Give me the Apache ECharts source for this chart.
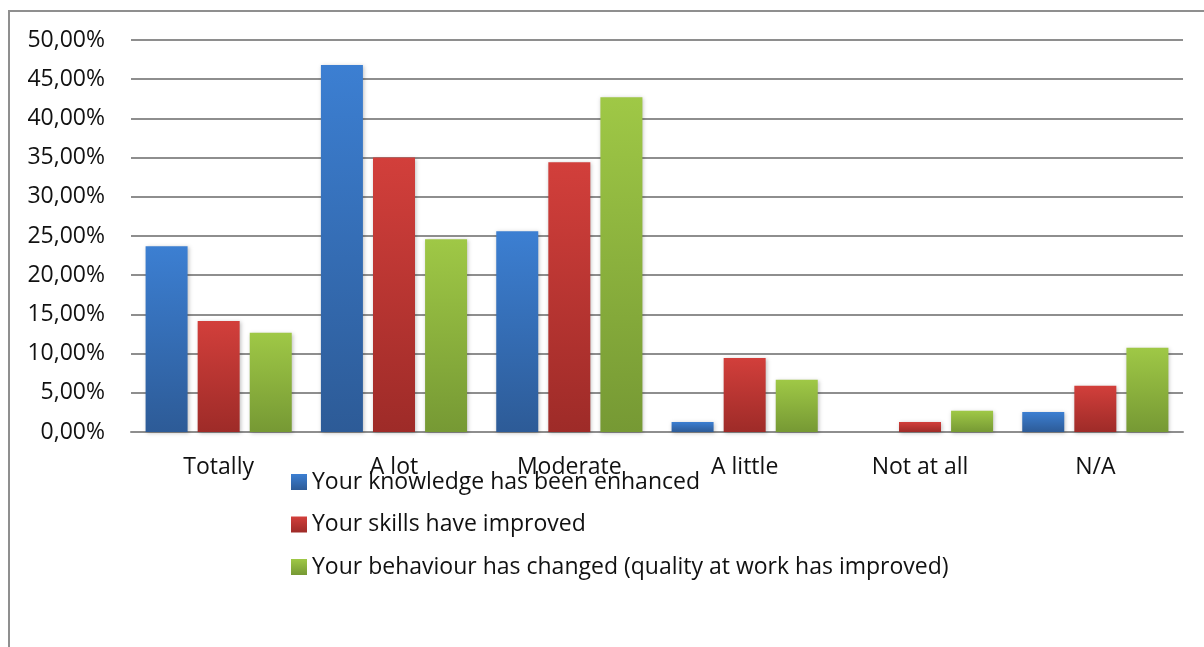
<!DOCTYPE html>
<html>
<head>
<meta charset="utf-8">
<script src="https://cdn.jsdelivr.net/npm/echarts@6/dist/echarts.min.js"></script>
<style>
  html, body { margin: 0; padding: 0; background: #fff; }
  #chart { width: 1204px; height: 647px; }
</style>
</head>
<body>
<div id="chart"></div>
<script>
// Survey answer categories along the x axis
const categories = ['Totally', 'A lot', 'Moderate', 'A little', 'Not at all', 'N/A'];

// Share of respondents (%) per answer, one array per statement
const knowledge = [23.7, 46.8, 25.6, 1.28, 0, 2.56];
const skills = [14.15, 35.0, 34.4, 9.45, 1.28, 5.9];
const behaviour = [12.65, 24.6, 42.7, 6.65, 2.7, 10.75];

const seriesNames = [
  'Your knowledge has been enhanced',
  'Your skills have improved',
  'Your behaviour has changed (quality at work has improved)'
];

const FONT = '"Open Sans", sans-serif';
const FONT_SIZE = 23;

function grad(top, bottom) {
  return new echarts.graphic.LinearGradient(0, 0, 0, 1, [
    { offset: 0, color: top },
    { offset: 1, color: bottom }
  ]);
}

const palette = [
  grad('#3c7fd2', '#2d5b97'),
  grad('#d23f3b', '#9e2b28'),
  grad('#9fc846', '#769934')
];

function barSeries(name, data, color) {
  return {
    name: name,
    type: 'bar',
    data: data,
    barWidth: 42,
    barGap: '24%',
    itemStyle: {
      color: color,
      shadowColor: 'rgba(0,0,0,0.25)',
      shadowBlur: 4,
      shadowOffsetX: 1,
      shadowOffsetY: 1
    }
  };
}

const chart = echarts.init(document.getElementById('chart'), null, { renderer: 'canvas' });

chart.setOption({
  animation: false,
  backgroundColor: '#ffffff',
  graphic: [{
    type: 'rect',
    shape: { x: 9, y: 11, width: 1400, height: 900 },
    style: { fill: 'none', stroke: '#8f8f8f', lineWidth: 2 },
    z: -1
  }],
  grid: { left: 131, right: 21, top: 40, bottom: 215, containLabel: false },
  legend: {
    orient: 'vertical',
    left: 291,
    top: 470,
    itemWidth: 16,
    itemHeight: 16,
    itemGap: 18.5,
    icon: 'rect',
    padding: 0,
    textStyle: { fontFamily: FONT, fontSize: FONT_SIZE, lineHeight: 24, color: '#111' },
    data: seriesNames
  },
  xAxis: {
    type: 'category',
    data: categories,
    axisTick: { show: false },
    axisLine: { lineStyle: { color: '#8e8e8e', width: 2 } },
    axisLabel: { fontFamily: FONT, fontSize: FONT_SIZE, color: '#111', margin: 24 }
  },
  yAxis: {
    type: 'value',
    min: 0,
    max: 50,
    interval: 5,
    axisLine: { show: false },
    axisTick: { show: false },
    splitLine: { lineStyle: { color: '#8e8e8e', width: 2 } },
    axisLabel: {
      fontFamily: FONT,
      fontSize: FONT_SIZE,
      color: '#111',
      margin: 26,
      formatter: v => v.toFixed(2).replace('.', ',') + '%'
    }
  },
  series: [
    barSeries(seriesNames[0], knowledge, palette[0]),
    barSeries(seriesNames[1], skills, palette[1]),
    barSeries(seriesNames[2], behaviour, palette[2])
  ]
});
</script>
</body>
</html>
